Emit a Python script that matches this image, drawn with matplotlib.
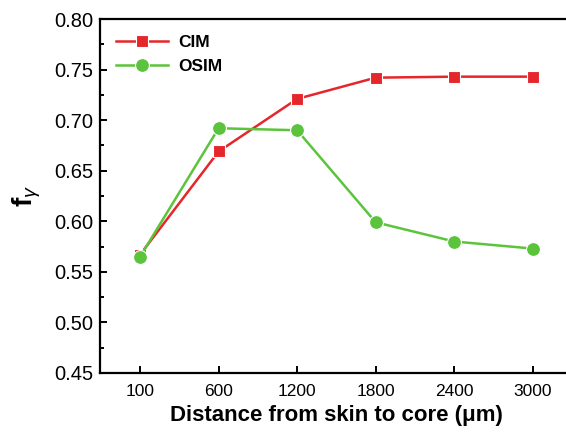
import matplotlib
matplotlib.use("Agg")
import matplotlib.pyplot as plt
from matplotlib.ticker import MultipleLocator, FormatStrFormatter

plt.rcParams["font.family"] = ["Liberation Sans", "DejaVu Sans"]
plt.rcParams["mathtext.fontset"] = "custom"
plt.rcParams["mathtext.rm"] = "Liberation Sans"
plt.rcParams["mathtext.bf"] = "Liberation Sans:bold"
plt.rcParams["mathtext.it"] = "Liberation Sans:italic"

distances = ["100", "600", "1200", "1800", "2400", "3000"]
cim = [0.567, 0.669, 0.721, 0.742, 0.743, 0.743]
osim = [0.565, 0.692, 0.690, 0.599, 0.580, 0.573]

red = "#e5262b"
green = "#5cc43c"

fig = plt.figure(figsize=(5.66, 4.32), dpi=100)
ax = fig.add_axes([0.1767, 0.1366, 0.834, 0.8194])

x = list(range(len(distances)))
ax.plot(x, cim, color=red, lw=1.8, marker="s", ms=8.5,
        mec="white", mew=0.8, label="CIM")
ax.plot(x, osim, color=green, lw=1.8, marker="o", ms=10,
        mec="white", mew=0.8, label="OSIM")

ax.set_xlim(-0.51, 5.5)
ax.set_ylim(0.45, 0.80)
ax.set_xticks(x)
ax.set_xticklabels(distances)
ax.yaxis.set_major_locator(MultipleLocator(0.05))
ax.yaxis.set_minor_locator(MultipleLocator(0.025))
ax.yaxis.set_major_formatter(FormatStrFormatter("%.2f"))

for s in ax.spines.values():
    s.set_linewidth(1.6)
ax.tick_params(axis="both", which="both", direction="in", width=1.4)
ax.tick_params(which="major", length=5)
ax.tick_params(which="minor", length=3)
ax.tick_params(axis="x", labelsize=12.5, pad=8)
ax.tick_params(axis="y", labelsize=14.5, pad=5)

ax.set_xlabel("Distance from skin to core (\u03bcm)",
              fontsize=16, fontweight="bold", labelpad=4)
ax.set_ylabel(r"$\mathbf{f}_{\gamma}$", fontsize=20, labelpad=8)

ax.legend(loc="upper left", frameon=False,
          prop={"weight": "bold", "size": 12.5}, handlelength=3.0,
          borderaxespad=0.5, labelspacing=0.5, handletextpad=0.6)

fig.savefig("out.png", dpi=100)
